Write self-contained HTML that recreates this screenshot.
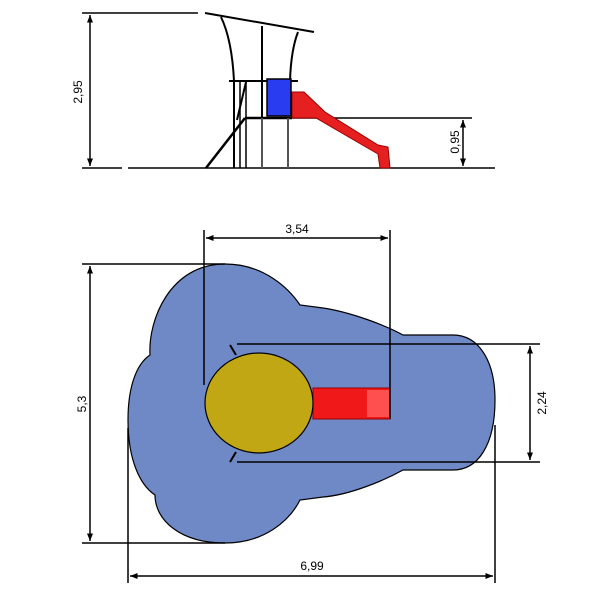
<!DOCTYPE html>
<html><head><meta charset="utf-8"><style>html,body{margin:0;padding:0;background:#fff}svg{display:block}</style></head><body>
<svg width="600" height="600" viewBox="0 0 600 600" xmlns="http://www.w3.org/2000/svg" font-family="Liberation Sans, sans-serif">
<defs>
<marker id="a" viewBox="0 0 10 10" refX="10" refY="5" markerWidth="7" markerHeight="5" orient="auto-start-reverse"><path d="M0,1 L10,5 L0,9 Z" fill="#000"/></marker>
</defs>
<g stroke="#000" stroke-width="1.5" fill="none">
<!-- side view -->
<line x1="82" y1="13" x2="198" y2="13"/>
<line x1="82" y1="168" x2="122" y2="168"/>
<line x1="128" y1="168" x2="495" y2="168"/>
<line x1="90" y1="15" x2="90" y2="166" marker-start="url(#a)" marker-end="url(#a)"/>
<line x1="290" y1="118" x2="472" y2="118"/>
<line x1="463" y1="120" x2="463" y2="166" marker-start="url(#a)" marker-end="url(#a)"/>
<!-- slide -->
<path d="M292,92 L304,92 L325,112 L378,145 L388,147 L390,168 L380,168 L378,154 L316,118 L292,118 Z" fill="#e62020" stroke="#900" stroke-width="1"/>
<line x1="205" y1="13" x2="314" y2="32" stroke-width="2"/>
<path d="M221,17 Q232,40 234,81" stroke-width="2"/>
<path d="M298,32 Q291,50 290,81" stroke-width="2"/>
<line x1="262" y1="26" x2="262" y2="168" stroke-width="2"/>
<line x1="229" y1="81" x2="298" y2="81" stroke-width="2"/>
<rect x="267" y="79" width="24" height="37" fill="#2a3cf0" stroke="#000"/>
<line x1="245" y1="118" x2="292" y2="118" stroke-width="2.5"/>
<line x1="234" y1="81" x2="234" y2="168" stroke-width="2"/>
<line x1="240" y1="81" x2="240" y2="168" stroke-width="1.5"/>
<line x1="246" y1="81" x2="246" y2="168" stroke-width="1.5"/>
<line x1="288" y1="118" x2="288" y2="168" stroke="#555" stroke-width="2"/>
<line x1="262" y1="118" x2="262" y2="168" stroke="#555" stroke-width="2"/>
<line x1="206" y1="168" x2="245" y2="118" stroke-width="2.5"/>
<line x1="237" y1="120" x2="246" y2="82" stroke-width="2"/>
<!-- plan view -->
<path d="M225,264 C265,264 290,290 300,305 L323,308 C350,312 385,325 403,335 L453,335 C478,335 495,360 495,400 C495,445 478,470 453,470 L403,470 C385,480 350,495 323,497 L300,500 C290,520 265,543 225,543 C180,543 155,520 155,495 C140,485 128,460 128,420 C128,390 135,365 150,355 C148,320 170,264 225,264 Z" fill="#6f88c6" stroke="#000" stroke-width="1.2"/>
<rect x="313" y="388" width="77" height="31" fill="#f01818" stroke="#900" stroke-width="1"/>
<rect x="367" y="390" width="22" height="27" fill="#ff5050" stroke="none"/>
<ellipse cx="259" cy="403" rx="54" ry="50" fill="#c1a713" stroke="#000" stroke-width="1.2"/>
<line x1="230" y1="345" x2="236" y2="355" stroke-width="2"/>
<line x1="230" y1="462" x2="236" y2="452" stroke-width="2"/>
<line x1="237" y1="344" x2="540" y2="344"/>
<line x1="237" y1="462" x2="540" y2="462"/>
<line x1="530" y1="346" x2="530" y2="460" marker-start="url(#a)" marker-end="url(#a)"/>
<line x1="204" y1="230" x2="204" y2="385"/>
<line x1="390" y1="230" x2="390" y2="419"/>
<line x1="206" y1="238" x2="388" y2="238" marker-start="url(#a)" marker-end="url(#a)"/>
<line x1="82" y1="264" x2="225" y2="264"/>
<line x1="82" y1="543" x2="225" y2="543"/>
<line x1="90" y1="266" x2="90" y2="541" marker-start="url(#a)" marker-end="url(#a)"/>
<line x1="128" y1="428" x2="128" y2="583"/>
<line x1="495" y1="425" x2="495" y2="583"/>
<line x1="130" y1="576" x2="493" y2="576" marker-start="url(#a)" marker-end="url(#a)"/>
</g>
<g font-size="12" fill="#000" text-anchor="middle">
<text x="0" y="0" transform="translate(82,92) rotate(-90)">2,95</text>
<text x="0" y="0" transform="translate(459,142) rotate(-90)">0,95</text>
<text x="297" y="233">3,54</text>
<text x="0" y="0" transform="translate(86,404) rotate(-90)">5,3</text>
<text x="0" y="0" transform="translate(546,403) rotate(-90)">2,24</text>
<text x="312" y="570">6,99</text>
</g>
</svg>
</body></html>
